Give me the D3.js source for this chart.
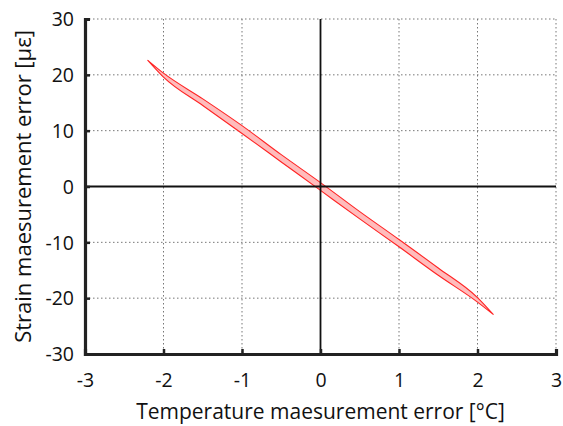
<!DOCTYPE html>
<html>
<head>
<meta charset="utf-8">
<script src="https://cdn.jsdelivr.net/npm/d3@7"></script>
<style>
  body { margin: 0; background: #fff; }
  text { font-family: "Open Sans", "Noto Sans", sans-serif; fill: #111; }
</style>
</head>
<body>
<svg id="chart"></svg>
<script>
// tick values for both axes
const xTicks = [-3, -2, -1, 0, 1, 2, 3]
const yTicks = [-30, -20, -10, 0, 10, 20, 30]

// error band: temperature error with upper and lower strain error
const bandX     = [-2.2, -2, -1.5, -1, -0.5, 0, 0.5, 1, 1.5, 2, 2.2]
const bandUpper = [22.6, 20.3, 15.7, 10.9, 5.7, 0.7, -4.5, -9.5, -14.6, -19.9, -22.9]
const bandLower = [22.6, 19.6, 14.5, 9.5, 4.4, -0.7, -5.8, -10.8, -15.9, -20.7, -22.9]

const xLabel = 'Temperature maesurement error [°C]'
const yLabel = 'Strain maesurement error [με]'

const width = 563, height = 426
const margin = {top: 19, right: 7, bottom: 72, left: 85}

const svg = d3.select('#chart')
              .attr('width', width)
              .attr('height', height)

const x = d3.scaleLinear().domain([-3, 3]).range([margin.left, width - margin.right])
const y = d3.scaleLinear().domain([-30, 30]).range([height - margin.bottom, margin.top])

// dotted grid
svg.append('g')
   .selectAll('line')
   .data(xTicks)
   .join('line')
   .attr('x1', d => x(d)).attr('x2', d => x(d))
   .attr('y1', y(30)).attr('y2', y(-30))
   .attr('stroke', '#777').attr('stroke-width', 1).attr('stroke-dasharray', '1.5,2.5')

svg.append('g')
   .selectAll('line')
   .data(yTicks)
   .join('line')
   .attr('x1', x(-3)).attr('x2', x(3))
   .attr('y1', d => y(d)).attr('y2', d => y(d))
   .attr('stroke', '#777').attr('stroke-width', 1).attr('stroke-dasharray', '1.5,2.5')

// band drawn as an area between the two edges
const bandData = bandX.map((t, i) => ({t: t, hi: bandUpper[i], lo: bandLower[i]}))
svg.append('path')
   .datum(bandData)
   .attr('d', d3.area()
                .x(d => x(d.t))
                .y0(d => y(d.lo))
                .y1(d => y(d.hi))
                .curve(d3.curveMonotoneX))
   .attr('fill', '#ffbcbc')
   .attr('stroke', '#ff2424')
   .attr('stroke-width', 1.1)
   .attr('stroke-linejoin', 'round')

// zero lines
svg.append('line')
   .attr('x1', x(0)).attr('x2', x(0)).attr('y1', y(30)).attr('y2', y(-30))
   .attr('stroke', '#111').attr('stroke-width', 1.8)
svg.append('line')
   .attr('x1', x(-3)).attr('x2', x(3)).attr('y1', y(0)).attr('y2', y(0))
   .attr('stroke', '#111').attr('stroke-width', 1.8)

// axes
const xAxis = svg.append('g')
   .attr('transform', `translate(0,${y(-30)})`)
   .call(d3.axisBottom(x).tickValues(xTicks).tickSize(-5).tickPadding(19).tickFormat(d => String(d)))
const yAxis = svg.append('g')
   .attr('transform', `translate(${x(-3)},0)`)
   .call(d3.axisLeft(y).tickValues(yTicks).tickSize(-5).tickPadding(11).tickFormat(d => String(d)))

for (const ax of [xAxis, yAxis]) {
  ax.select('.domain').attr('stroke', '#222').attr('stroke-width', 3.2)
  ax.selectAll('.tick line').attr('stroke', '#222').attr('stroke-width', 2.5)
  ax.selectAll('.tick text').style('font-size', '19.5px').attr('fill', '#111')
}
xAxis.selectAll('.tick text').attr('dy', '0.71em')
yAxis.selectAll('.tick text').attr('dy', '0.35em')

// axis titles
svg.append('text')
   .attr('x', (x(-3) + x(3)) / 2)
   .attr('y', 419)
   .attr('text-anchor', 'middle')
   .style('font-size', '21px')
   .text(xLabel)

svg.append('text')
   .attr('transform', `translate(31,${(y(30) + y(-30)) / 2}) rotate(-90)`)
   .attr('text-anchor', 'middle')
   .style('font-size', '22px')
   .text(yLabel)
</script>
</body>
</html>
